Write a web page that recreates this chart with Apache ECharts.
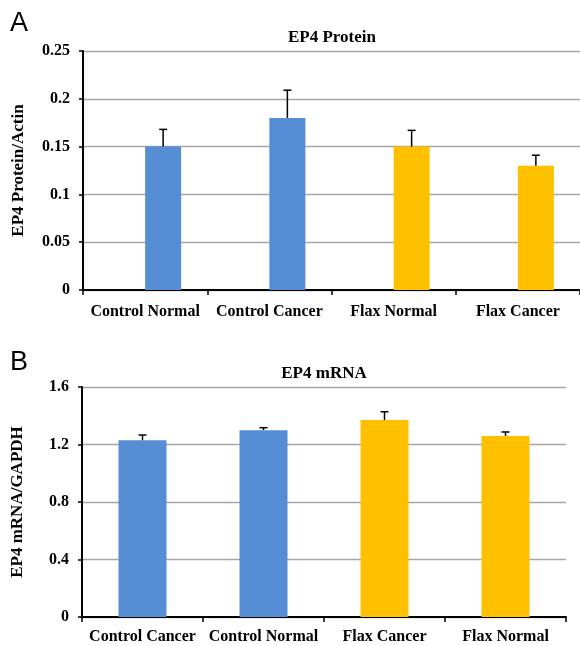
<!DOCTYPE html>
<html>
<head>
<meta charset="utf-8">
<script src="https://cdn.jsdelivr.net/npm/echarts@6/dist/echarts.min.js"></script>
<style>
html,body{margin:0;padding:0;background:#fff;}
#chart{width:580px;height:646px;}
</style>
</head>
<body>
<div id="chart"></div>
<script>
// ---- Data ----
const categoriesA = ['Control Normal', 'Control Cancer', 'Flax Normal', 'Flax Cancer'];
const valuesA = [0.15, 0.18, 0.15, 0.13];
const errorsA = [0.018, 0.029, 0.017, 0.011];
const groupsA = ['control', 'control', 'flax', 'flax'];
const yTicksA = { min: 0, max: 0.25, interval: 0.05 };

const categoriesB = ['Control Cancer', 'Control Normal', 'Flax Cancer', 'Flax Normal'];
const valuesB = [1.23, 1.30, 1.37, 1.26];
const errorsB = [0.036, 0.017, 0.058, 0.027];
const groupsB = ['control', 'control', 'flax', 'flax'];
const yTicksB = { min: 0, max: 1.6, interval: 0.4 };

// ---- Styles ----
const COLORS = { control: '#558ED5', flax: '#FFC000' };
const SERIF = "'Liberation Serif', 'Times New Roman', serif";
const SANS = "'Liberation Sans', Arial, sans-serif";
const labelStyle = { fontFamily: SERIF, fontWeight: 'bold', fontSize: 16, color: '#000' };

function colored(vals, groups) {
  return vals.map((v, i) => ({ value: v, itemStyle: { color: COLORS[groups[i]] } }));
}
function errData(vals, errs) {
  return vals.map((v, i) => [i, v, v + errs[i]]);
}
function errRender(offset) {
  return function (params, api) {
    const base = api.coord([api.value(0), api.value(1)]);
    const top = api.coord([api.value(0), api.value(2)]);
    const x = base[0] + offset;
    const st = { stroke: '#000', lineWidth: 1.5 };
    return {
      type: 'group',
      children: [
        { type: 'line', shape: { x1: x, y1: base[1], x2: x, y2: top[1] }, style: st },
        { type: 'line', shape: { x1: x - 4, y1: top[1], x2: x + 4, y2: top[1] }, style: st }
      ]
    };
  };
}
function xAxis(cats, gridIndex, margin) {
  return {
    type: 'category', gridIndex: gridIndex, data: cats,
    axisLine: { lineStyle: { color: '#000', width: 2 } },
    axisTick: { show: true, length: 5, lineStyle: { color: '#000', width: 1.5 } },
    axisLabel: Object.assign({ margin: margin, interval: 0 }, labelStyle),
    splitLine: { show: false }
  };
}
function yAxis(ticks, gridIndex, name) {
  return {
    type: 'value', gridIndex: gridIndex, min: ticks.min, max: ticks.max, interval: ticks.interval,
    name: name, nameLocation: 'middle', nameGap: 56,
    nameTextStyle: { fontFamily: SERIF, fontWeight: 'bold', fontSize: 17, color: '#000' },
    axisLine: { show: true, lineStyle: { color: '#000', width: 2 } },
    axisTick: { show: true, length: 4, lineStyle: { color: '#000', width: 1.5 } },
    axisLabel: Object.assign({ margin: 13 }, labelStyle),
    splitLine: { show: true, lineStyle: { color: '#A6A6A6', width: 1.3 } }
  };
}

const chart = echarts.init(document.getElementById('chart'), null, { renderer: 'canvas' });
chart.setOption({
  animation: false,
  backgroundColor: '#fff',
  title: [
    { text: 'A', left: 10, top: 10, padding: 0, textStyle: { fontFamily: SANS, fontWeight: 'normal', fontSize: 27, color: '#000' } },
    { text: 'B', left: 10, top: 349, padding: 0, textStyle: { fontFamily: SANS, fontWeight: 'normal', fontSize: 27, color: '#000' } },
    { text: 'EP4 Protein', left: 332, textAlign: 'center', top: 29, padding: 0, textStyle: { fontFamily: SERIF, fontWeight: 'bold', fontSize: 17, color: '#000' } },
    { text: 'EP4 mRNA', left: 324, textAlign: 'center', top: 365, padding: 0, textStyle: { fontFamily: SERIF, fontWeight: 'bold', fontSize: 17, color: '#000' } }
  ],
  grid: [
    { left: 83, top: 51, width: 497, height: 239, containLabel: false },
    { left: 82, top: 387, width: 484, height: 230, containLabel: false }
  ],
  xAxis: [xAxis(categoriesA, 0, 14), xAxis(categoriesB, 1, 12)],
  yAxis: [yAxis(yTicksA, 0, 'EP4 Protein/Actin'), yAxis(yTicksB, 1, 'EP4 mRNA/GAPDH')],
  series: [
    { type: 'bar', xAxisIndex: 0, yAxisIndex: 0, barWidth: 36, barGap: '0%', data: valuesA.map(() => 0), itemStyle: { color: 'rgba(0,0,0,0)' }, silent: true },
    { type: 'bar', xAxisIndex: 0, yAxisIndex: 0, barWidth: 36, barGap: '0%', data: colored(valuesA, groupsA) },
    { type: 'custom', xAxisIndex: 0, yAxisIndex: 0, renderItem: errRender(18), data: errData(valuesA, errorsA), encode: { x: 0, y: [1, 2] }, z: 5 },
    { type: 'bar', xAxisIndex: 1, yAxisIndex: 1, barWidth: 48, data: colored(valuesB, groupsB) },
    { type: 'custom', xAxisIndex: 1, yAxisIndex: 1, renderItem: errRender(0), data: errData(valuesB, errorsB), encode: { x: 0, y: [1, 2] }, z: 5 }
  ]
});
</script>
</body>
</html>
